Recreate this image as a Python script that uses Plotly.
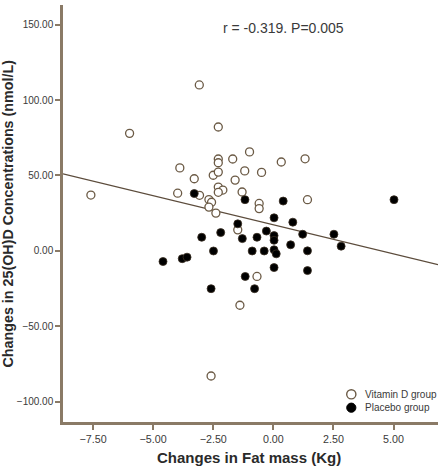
import plotly.graph_objects as go

# changes in fat mass (kg) vs changes in 25(OH)D (nmol/L)
vitd_fat = [-7.59, -5.98, -3.08, -3.89, -3.98, -3.29, -3.07, -2.68, -2.57, -2.68,
            -2.39, -2.29, -2.29, -2.29, -2.50, -2.29, -2.29, -2.10, -2.29, -1.69,
            -0.99, 0.33, 1.32, -1.19, -0.49, -1.59, -1.30, -0.59, -0.59, 1.42,
            -1.48, -0.68, -1.39, -2.59]
vitd_25ohd = [37.0, 77.9, 110.0, 55.0, 38.2, 47.8, 36.8, 34.0, 32.2, 29.0,
              25.0, 82.1, 60.9, 58.4, 50.1, 52.2, 42.3, 40.3, 38.8, 60.9,
              65.6, 58.9, 61.0, 53.0, 52.0, 46.9, 39.0, 31.4, 28.0, 33.9,
              13.9, -17.0, -36.1, -83.0]

placebo_fat = [-3.29, -1.18, 0.41, 5.02, 0.03, 0.81, -1.48, -0.29, 1.22, 2.52,
               -2.19, -2.98, -1.29, -0.68, 0.03, 0.03, 0.72, 2.82, -2.49, -0.88,
               -0.38, 0.03, 0.12, 1.42, 0.03, 1.42, -1.17, -0.78, -2.59, -4.59,
               -3.79, -3.59]
placebo_25ohd = [38.0, 33.9, 33.0, 33.9, 21.9, 19.0, 17.9, 13.1, 11.0, 11.0,
                 12.1, 9.0, 8.1, 9.0, 10.1, 7.0, 4.0, 3.1, -0.1, -0.1,
                 -0.1, 0.7, -2.0, 0.0, -11.1, -13.1, -17.0, -25.1, -25.1, -7.1,
                 -5.2, -4.2]

group_names = ["Vitamin D group", "Placebo group"]

# fit line
fit_intercept = 17.3
fit_slope = -3.86

x_range = [-8.75, 6.85]
y_range = [-113.5, 163]

axis_col = "#8a7a66"
txt_col = "#3a3a3a"
open_edge = "#6b5a45"

fig = go.Figure()

fig.add_trace(go.Scatter(
    x=x_range,
    y=[fit_intercept + fit_slope * v for v in x_range],
    mode="lines",
    line=dict(color="#5c4c3c", width=1.2),
    showlegend=False,
    hoverinfo="skip",
))

fig.add_trace(go.Scatter(
    x=vitd_fat, y=vitd_25ohd,
    mode="markers",
    name=group_names[0],
    showlegend=False,
    marker=dict(symbol="circle", size=8, color="white",
                line=dict(color=open_edge, width=1.3)),
))

fig.add_trace(go.Scatter(
    x=placebo_fat, y=placebo_25ohd,
    mode="markers",
    name=group_names[1],
    showlegend=False,
    marker=dict(symbol="circle", size=8, color="black",
                line=dict(color="#3a2e22", width=0.8)),
))

# hand-made legend in the lower right corner
leg_x = 0.7688
leg_rows = [0.0664, 0.0343]
leg_style = [dict(fillcolor="white", line=dict(color=open_edge, width=1.4)),
             dict(fillcolor="black", line=dict(color="black", width=1))]
for yy, st in zip(leg_rows, leg_style):
    fig.add_shape(type="circle", xref="paper", yref="paper",
                  xsizemode="pixel", ysizemode="pixel",
                  xanchor=leg_x, yanchor=yy,
                  x0=-4.6, x1=4.6, y0=-4.6, y1=4.6, **st)
for yy, name in zip(leg_rows, group_names):
    fig.add_annotation(text=name, x=0.8, y=yy, xref="paper", yref="paper",
                       xanchor="left", yanchor="middle", showarrow=False,
                       font=dict(size=10, color=txt_col))

fig.update_layout(
    width=440, height=471,
    margin=dict(l=63, r=2, t=5, b=49),
    paper_bgcolor="white",
    plot_bgcolor="white",
    font=dict(family="Liberation Sans, Arial, sans-serif", size=11, color=txt_col),
    showlegend=False,
)

fig.add_annotation(text="r = -0.319. P=0.005", x=0.5893, y=0.9441, xref="paper", yref="paper",
                   xanchor="center", yanchor="middle", showarrow=False,
                   font=dict(size=14, color=txt_col))
fig.add_annotation(text="<b>Changes in Fat mass (Kg)</b>", x=0.496, y=-0.0863,
                   xref="paper", yref="paper", xanchor="center", yanchor="middle",
                   showarrow=False, font=dict(size=15, color="#2a2a2a"))
fig.add_annotation(text="<b>Changes in 25(OH)D Concentrations (nmol/L)</b>", x=-0.1467, y=0.50,
                   xref="paper", yref="paper", xanchor="center", yanchor="middle",
                   showarrow=False, textangle=-90,
                   font=dict(size=14.3, color="#2a2a2a"))

fig.update_xaxes(
    range=x_range, tick0=-7.5, dtick=2.5, tickformat=".2f",
    tickfont=dict(size=10.7),
    showgrid=False, zeroline=False,
    showline=True, linecolor=axis_col, linewidth=2.5,
    ticks="outside", ticklen=5, tickcolor=axis_col, tickwidth=1.5,
)
fig.update_yaxes(
    range=y_range, tick0=0, dtick=50, tickformat=".2f",
    tickfont=dict(size=10),
    showgrid=False, zeroline=False,
    showline=True, linecolor=axis_col, linewidth=2.5,
    ticks="outside", ticklen=5, tickcolor=axis_col, tickwidth=1.5,
)

# drop the default 8px page margin so the figure sits at the window corner
fig.write_html("out.html", config={"displayModeBar": False},
               post_script="document.body.style.margin='0';")
